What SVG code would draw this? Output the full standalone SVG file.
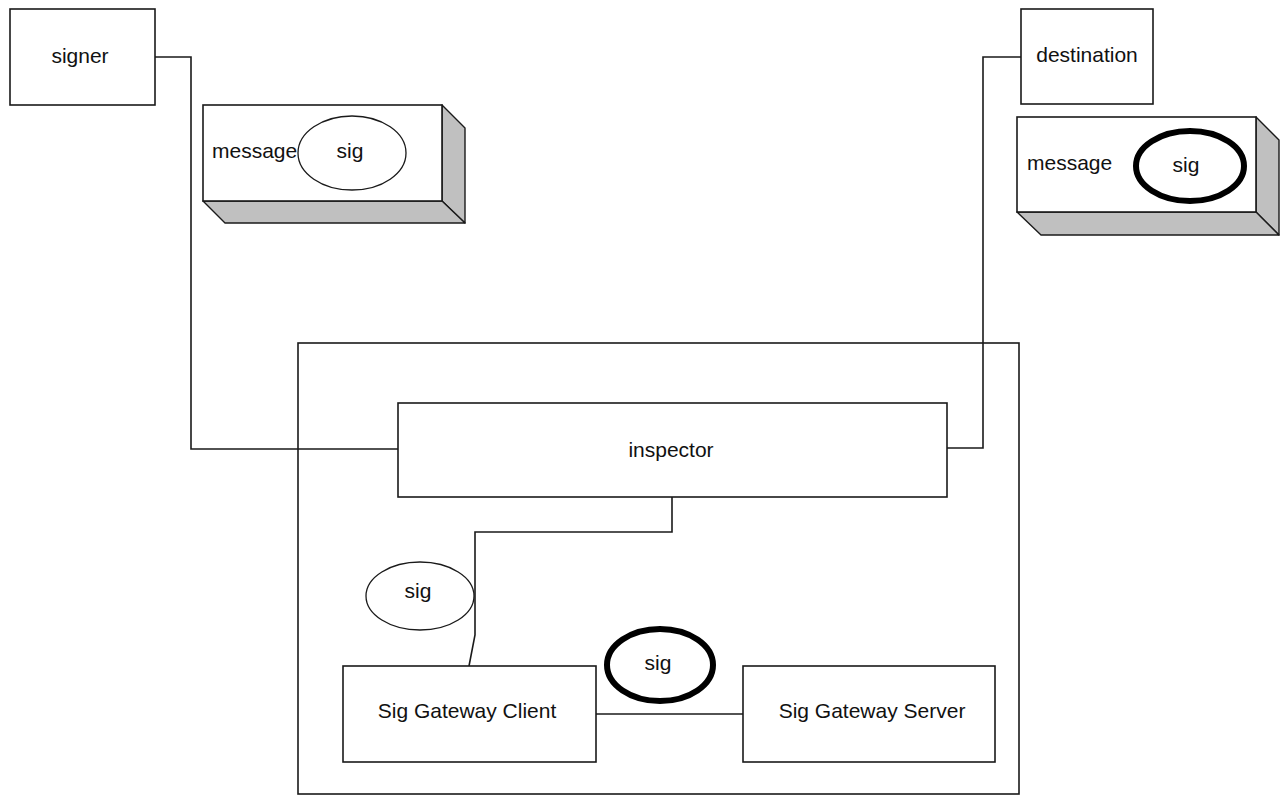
<svg xmlns="http://www.w3.org/2000/svg" width="1287" height="795" viewBox="0 0 1287 795">
<style>
  .box { fill: #ffffff; stroke: #1a1a1a; stroke-width: 1.6; }
  .side { fill: #c0c0c0; stroke: #1a1a1a; stroke-width: 1.4; stroke-linejoin: round; }
  .conn { fill: none; stroke: #1a1a1a; stroke-width: 1.6; }
  .sig { fill: #ffffff; stroke: #1a1a1a; stroke-width: 1.3; }
  .sigb { fill: #ffffff; stroke: #000000; stroke-width: 6; }
  text { font-family: "Liberation Sans", Arial, sans-serif; font-size: 21px; fill: #111111; }
  .c { text-anchor: middle; }
</style>
<rect width="1287" height="795" fill="#ffffff"/>
<g id="container">
  <rect class="box" x="298" y="343" width="721" height="451"/>
</g>
<g id="connectors">
  <path class="conn" d="M155,57 H191 V449 H398"/>
  <path class="conn" d="M1021,57 H983 V448 H947"/>
  <path class="conn" d="M672,497 V532 H475 V635 L469,666"/>
  <path class="conn" d="M596,714 H743"/>
</g>
<g id="signer">
  <rect class="box" x="10" y="9" width="145" height="96"/>
  <text class="c" x="80" y="63">signer</text>
</g>
<g id="message1">
  <polygon class="side" points="442,105 465,128 465,223 442,201"/>
  <polygon class="side" points="203,201 442,201 465,223 225,223"/>
  <rect class="box" x="203" y="105" width="239" height="96"/>
  <ellipse class="sig" cx="352" cy="153" rx="54" ry="37"/>
  <text x="212" y="158">message</text>
  <text class="c" x="350" y="158">sig</text>
</g>
<g id="destination">
  <rect class="box" x="1021" y="9" width="132" height="95"/>
  <text class="c" x="1087" y="62">destination</text>
</g>
<g id="message2">
  <polygon class="side" points="1256,117 1279,140 1279,235 1256,212"/>
  <polygon class="side" points="1017,212 1256,212 1279,235 1041,235"/>
  <rect class="box" x="1017" y="117" width="239" height="95"/>
  <ellipse class="sigb" cx="1190" cy="166" rx="54" ry="35"/>
  <text x="1027" y="170">message</text>
  <text class="c" x="1186" y="172">sig</text>
</g>
<g id="inspector">
  <rect class="box" x="398" y="403" width="549" height="94"/>
  <text class="c" x="671" y="457">inspector</text>
</g>
<g id="sig-client">
  <ellipse class="sig" cx="420" cy="596" rx="54" ry="34"/>
  <text class="c" x="418" y="598">sig</text>
</g>
<g id="client">
  <rect class="box" x="343" y="666" width="253" height="96"/>
  <text class="c" x="467" y="718">Sig Gateway Client</text>
</g>
<g id="sig-secure">
  <ellipse class="sigb" cx="660" cy="665" rx="53" ry="36"/>
  <text class="c" x="658" y="670">sig</text>
</g>
<g id="server">
  <rect class="box" x="743" y="666" width="252" height="96"/>
  <text class="c" x="872" y="718">Sig Gateway Server</text>
</g>
</svg>
